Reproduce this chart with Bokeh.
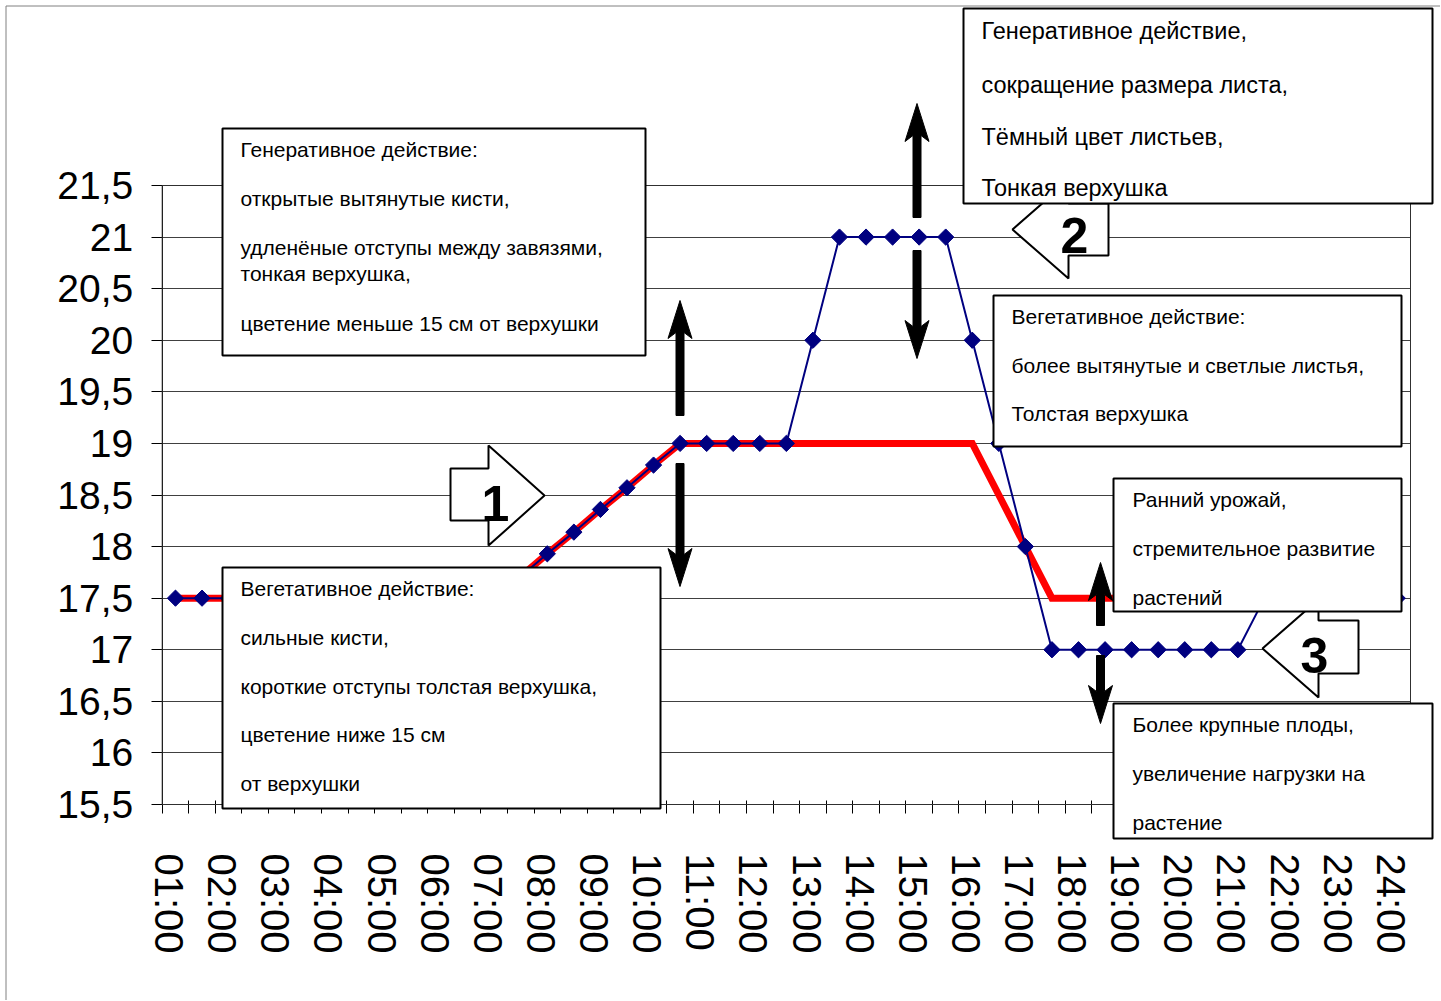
import math
from bokeh.plotting import figure
from bokeh.models import Range1d, FixedTicker, Label, PolyAnnotation, Grid
from bokeh.embed import file_html
from bokeh.resources import INLINE

# ---------------- data ----------------
times = ["01:00", "01:30", "02:00", "02:30", "03:00", "03:30", "04:00", "04:30",
         "05:00", "05:30", "06:00", "06:30", "07:00", "07:30", "08:00", "08:30",
         "09:00", "09:30", "10:00", "10:30", "11:00", "11:30", "12:00", "12:30",
         "13:00", "13:30", "14:00", "14:30", "15:00", "15:30", "16:00", "16:30",
         "17:00", "17:30", "18:00", "18:30", "19:00", "19:30", "20:00", "20:30",
         "21:00", "21:30", "22:00", "22:30", "23:00", "23:30", "24:00"]

blue_values = [17.5, 17.5, 17.5, 17.5, 17.5, 17.5, 17.5, 17.5, 17.5, 17.5, 17.5, 17.5, 17.5,
               17.71, 17.93, 18.14, 18.36, 18.57, 18.79,
               19, 19, 19, 19, 19,
               20,
               21, 21, 21, 21, 21,
               20, 19, 18,
               17, 17, 17, 17, 17, 17, 17, 17,
               17.5, 17.5, 17.5, 17.5, 17.5, 17.5]

red_values = [17.5, 17.5, 17.5, 17.5, 17.5, 17.5, 17.5, 17.5, 17.5, 17.5, 17.5, 17.5, 17.5,
              17.71, 17.93, 18.14, 18.36, 18.57, 18.79,
              19, 19, 19, 19, 19,
              19, 19, 19, 19, 19, 19, 19,
              18.5, 18,
              17.5, 17.5, 17.5, 17.5, 17.5, 17.5, 17.5, 17.5, 17.5, 17.5, 17.5, 17.5, 17.5, 17.5]

y_ticks = [15.5, 16, 16.5, 17, 17.5, 18, 18.5, 19, 19.5, 20, 20.5, 21, 21.5]
y_tick_labels = ["15,5", "16", "16,5", "17", "17,5", "18", "18,5", "19", "19,5", "20", "20,5", "21", "21,5"]

positions = list(range(len(times)))
Y_MIN, Y_MAX = 15.5, 21.5
X_MIN, X_MAX = -0.5, len(times) - 0.5

# ---------------- layout (pixels of the chart's plot area) ----------------
W, H = 1440, 1000
XL, XR = 161.7, 1410.0      # plot-area left/right edges
YT, YB = 185.0, 804.0       # plot-area top/bottom edges
XSTEP = (XR - XL) / (X_MAX - X_MIN)
YSTEP = (YB - YT) / (Y_MAX - Y_MIN)


def dx(px):
    return X_MIN + (px - XL) / XSTEP


def dy(py):
    return Y_MAX - (py - YT) / YSTEP


# the frame covers the whole canvas so that call-out boxes outside the plot area are not clipped
p = figure(width=W, height=H, title=None,
           x_range=Range1d(dx(0), dx(W)), y_range=Range1d(dy(H), dy(0)),
           output_backend="svg", toolbar_location=None, min_border=0)
p.background_fill_color = "white"
p.border_fill_color = "white"
p.outline_line_color = None

# y axis
yax = p.yaxis[0]
yax.fixed_location = X_MIN
yax.bounds = (Y_MIN, Y_MAX)
yax.ticker = FixedTicker(ticks=y_ticks, minor_ticks=[])
yax.major_label_overrides = {t: l for t, l in zip(y_ticks, y_tick_labels)}
yax.major_label_text_font = "Liberation Sans"
yax.major_label_text_font_size = "39px"
yax.major_label_text_color = "black"
yax.major_label_standoff = 18
yax.major_tick_out = 11
yax.major_tick_in = 0
yax.axis_line_color = "black"
yax.major_tick_line_color = "black"

# x axis (labels every hour, tick marks between half-hour categories)
xax = p.xaxis[0]
xax.fixed_location = Y_MIN
xax.bounds = (X_MIN, X_MAX)
label_pos = [i - 0.24 for i in positions[::2]]
xax.ticker = FixedTicker(ticks=label_pos, minor_ticks=[i - 0.5 for i in range(len(times) + 1)])
xax.major_label_overrides = {lp: times[i] for lp, i in zip(label_pos, positions[::2])}
xax.major_label_orientation = -math.pi / 2
xax.major_label_text_font = "Liberation Sans"
xax.major_label_text_font_size = "40px"
xax.major_label_text_color = "black"
xax.major_label_standoff = 40
xax.major_tick_out = 0
xax.major_tick_in = 0
xax.minor_tick_out = 9
xax.minor_tick_in = 4
xax.minor_tick_line_color = "black"
xax.axis_line_color = "black"

p.xgrid.grid_line_color = None
if "cross_bounds" in Grid.properties():
    p.ygrid.ticker = FixedTicker(ticks=y_ticks)
    p.ygrid.bounds = (Y_MIN, Y_MAX)
    p.ygrid.cross_bounds = (X_MIN, X_MAX)
    p.ygrid.grid_line_color = "#404040"
else:
    p.ygrid.grid_line_color = None
    p.segment(x0=[X_MIN] * len(y_ticks), x1=[X_MAX] * len(y_ticks), y0=y_ticks, y1=y_ticks,
              line_color="#404040", line_width=1, level="underlay")

# series
p.line(positions, red_values, line_color="#ff0000", line_width=7, line_join="miter")
p.line(positions, blue_values, line_color="#000080", line_width=2)
p.scatter(positions, blue_values, marker="square", angle=math.pi / 4, size=11.5,
          fill_color="#000080", line_color="#000080")


# ---------------- annotations ----------------
def poly(pts, fill="white", line="black", lw=2, data=False):
    xs = [x if data else dx(x) for x, _ in pts]
    ys = [y if data else dy(y) for _, y in pts]
    p.add_layout(PolyAnnotation(xs=xs, ys=ys,
                                fill_color=fill if fill else "white", fill_alpha=1 if fill else 0,
                                line_color=line, line_alpha=1, line_width=lw))


def box(l, t, r, b):
    poly([(l, t), (r, t), (r, b), (l, b)])


def text(px, py, s, size="21px", bold=False, align="left"):
    p.add_layout(Label(x=dx(px), y=dy(py), text=s, text_font="Liberation Sans",
                       text_font_size=size, text_font_style="bold" if bold else "normal",
                       text_baseline="middle", text_align=align, text_color="black"))


def varrow(x, tip, tail):
    d = 1 if tail > tip else -1
    poly([(x, tip), (x + 12, tip + d * 38), (x + 4, tip + d * 32), (x + 4, tail),
          (x - 4, tail), (x - 4, tip + d * 32), (x - 12, tip + d * 38)],
         fill="black", line="black", lw=1)


# outer chart border and plot-area border
poly([(5.5, 5.5), (1500, 5.5), (1500, 1100), (5.5, 1100)], fill=None, line="#808080", lw=1)
poly([(X_MIN, Y_MIN), (X_MAX, Y_MIN), (X_MAX, Y_MAX), (X_MIN, Y_MAX)],
     fill=None, line="#303030", lw=1, data=True)

# numbered block arrows
poly([(450, 468), (488, 468), (488, 445), (544, 495), (488, 545), (488, 520), (450, 520)])
poly([(1012, 229), (1068, 180), (1068, 203), (1108, 203), (1108, 255), (1068, 255), (1068, 278)])
poly([(1262, 648), (1318, 599), (1318, 620), (1358, 620), (1358, 673), (1318, 673), (1318, 697)])
text(495, 503, "1", size="50px", bold=True, align="center")
text(1074, 235, "2", size="50px", bold=True, align="center")
text(1314, 655, "3", size="50px", bold=True, align="center")

# text boxes
box(222, 128, 645, 355)
text(240, 149, "Генеративное действие:")
text(240, 198, "открытые вытянутые кисти,")
text(240, 247, "удленёные отступы между завязями,")
text(240, 273, "тонкая верхушка,")
text(240, 323, "цветение меньше 15 см от верхушки")

box(963, 8, 1432, 203)
text(981, 30, "Генеративное действие,", size="23.5px")
text(981, 84, "сокращение размера листа,", size="23.5px")
text(981, 136, "Тёмный цвет листьев,", size="23.5px")
text(981, 187, "Тонкая верхушка", size="23.5px")

box(993, 295, 1401, 446)
text(1011, 316, "Вегетативное действие:")
text(1011, 365, "более вытянутые и светлые листья,")
text(1011, 413, "Толстая верхушка")

box(222, 567, 660, 808)
text(240, 588, "Вегетативное действие:")
text(240, 637, "сильные кисти,")
text(240, 686, "короткие отступы толстая верхушка,")
text(240, 734, "цветение ниже 15 см")
text(240, 783, "от верхушки")

box(1113, 478, 1401, 611)
text(1132, 499, "Ранний урожай,")
text(1132, 548, "стремительное развитие")
text(1132, 597, "растений")

box(1113, 703, 1432, 838)
text(1132, 724, "Более крупные плоды,")
text(1132, 773, "увеличение нагрузки на")
text(1132, 822, "растение")

# vertical double arrows
varrow(679.5, 300, 415)
varrow(679.5, 586, 463)
varrow(916.5, 103, 217)
varrow(916.5, 358, 250)
varrow(1100, 562, 625)
varrow(1100, 723, 655)

open("out.html", "w").write(file_html(p, INLINE))
